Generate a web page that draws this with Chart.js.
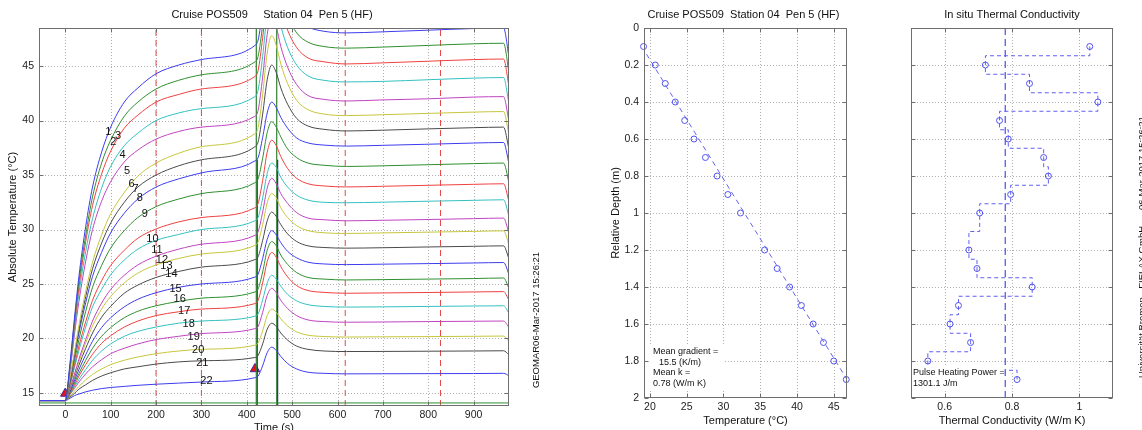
<!DOCTYPE html>
<html><head><meta charset="utf-8">
<script src="https://cdn.jsdelivr.net/npm/chart.js@4.4.1/dist/chart.umd.min.js"></script>
<style>
html,body{margin:0;padding:0;background:#fff;width:1142px;height:430px;overflow:hidden;position:relative}
canvas{position:absolute;top:0}
</style></head><body>
<canvas id="c1" style="left:0px" width="560" height="430"></canvas>
<canvas id="c2" style="left:560px" width="300" height="430"></canvas>
<canvas id="c3" style="left:860px" width="282" height="430"></canvas>
<script>
// ---------------- DATA ----------------
const timeSec = [-58, 0, 10, 20, 30, 45, 60, 80, 100, 130, 160, 200, 250, 300, 418, 425, 435, 445, 455, 465, 475, 490, 510, 535, 570, 620, 700, 800, 900, 966, 978];
const sensor01 = [14.3,14.3,17.6,21.8,25.7,30.3,33.9,37.1,39.4,41.7,43.0,44.3,45.1,45.6,46.9,47.4,50.1,53.5,55.0,54.2,52.6,50.9,49.4,48.6,48.2,48.05,48.15,48.3,48.45,48.5,45.8];
const sensor02 = [14.3,14.3,17.4,21.5,25.2,29.5,33.0,36.1,38.2,40.4,41.7,42.9,43.7,44.2,45.4,45.9,48.8,52.5,54.0,53.1,51.4,49.6,48.05,47.2,46.8,46.65,46.75,46.9,47.05,47.1,44.4];
const sensor03 = [14.3,14.3,17.3,21.1,24.7,28.9,32.2,35.1,37.2,39.3,40.5,41.7,42.4,42.9,44.05,44.6,47.6,51.4,53.0,52.1,50.3,48.3,46.7,45.75,45.4,45.2,45.3,45.45,45.6,45.65,43.1];
const sensor04 = [14.3,14.3,17.1,20.7,24.1,28.0,31.0,33.8,35.8,37.7,38.85,40.0,40.7,41.1,42.2,42.8,45.9,49.8,51.5,50.55,48.7,46.7,45.1,44.1,43.7,43.55,43.6,43.75,43.9,43.95,41.5];
const sensor05 = [14.3,14.3,16.9,20.3,23.4,27.1,30.0,32.6,34.4,36.2,37.3,38.3,39.0,39.4,40.4,40.95,44.0,47.9,49.5,48.6,46.8,44.9,43.3,42.3,41.95,41.8,41.9,42.0,42.16,42.2,39.9];
const sensor06 = [14.3,14.3,16.3,18.7,21.2,24.35,27.0,29.5,31.45,33.4,34.9,36.1,37.0,37.6,38.8,39.35,42.4,46.2,47.8,46.9,45.2,43.4,41.85,41.0,40.6,40.46,40.54,40.66,40.78,40.83,38.7];
const sensor07 = [14.3,14.3,16.2,18.5,20.8,23.85,26.4,28.75,30.6,32.5,33.9,35.0,35.85,36.4,37.6,38.05,40.6,43.75,45.1,44.4,43.0,41.5,40.2,39.5,39.2,39.05,39.12,39.24,39.35,39.4,37.35];
const sensor08 = [14.3,14.3,16.1,18.3,20.5,23.3,25.7,27.9,29.7,31.5,32.8,33.9,34.65,35.2,36.3,36.6,38.45,40.7,41.7,41.2,40.3,39.3,38.4,37.95,37.75,37.66,37.73,37.83,37.94,37.99,36.05];
const sensor09 = [14.3,14.3,15.9,17.9,19.9,22.5,24.7,26.7,28.3,29.9,31.1,32.1,32.8,33.3,34.3,34.65,36.55,38.9,39.9,39.4,38.5,37.4,36.6,36.1,35.9,35.79,35.85,35.95,36.05,36.1,34.3];
const sensor10 = [14.3,14.3,15.7,17.5,19.3,21.55,23.5,25.3,26.7,28.1,29.2,30.05,30.7,31.1,32.0,32.4,34.5,37.1,38.2,37.7,36.7,35.6,34.7,34.2,34.0,33.91,33.97,34.06,34.15,34.2,32.55];
const sensor11 = [14.3,14.3,15.6,17.3,18.9,21.05,22.9,24.5,25.85,27.2,28.2,29.0,29.55,30.0,30.8,31.1,32.9,35.15,36.1,35.7,34.8,33.9,33.15,32.7,32.5,32.46,32.51,32.6,32.68,32.73,31.2];
const sensor12 = [14.3,14.3,15.35,16.7,18.1,19.9,21.6,23.25,24.5,25.8,26.75,27.55,28.2,28.65,29.47,29.8,31.6,33.8,34.7,34.2,33.3,32.4,31.55,31.05,30.9,30.8,30.85,30.92,31.0,31.05,29.65];
const sensor13 = [14.3,14.3,15.3,16.6,17.85,19.6,21.15,22.7,23.85,25.1,26.0,26.75,27.35,27.75,28.55,28.85,30.45,32.45,33.3,32.9,32.0,31.1,30.35,29.9,29.7,29.64,29.69,29.76,29.83,29.88,28.6];
const sensor14 = [14.3,14.3,15.2,16.4,17.55,19.1,20.5,21.95,22.95,24.15,24.9,25.6,26.15,26.55,27.24,27.5,29.0,30.8,31.6,31.2,30.45,29.6,28.9,28.5,28.35,28.29,28.33,28.4,28.46,28.5,27.3];
const sensor15 = [14.3,14.3,15.1,16.1,17.15,18.5,19.75,21.0,21.9,22.9,23.6,24.2,24.7,25.0,25.64,25.9,27.35,29.1,29.9,29.5,28.8,28.0,27.4,27.0,26.84,26.78,26.82,26.87,26.93,26.97,25.9];
const sensor16 = [14.3,14.3,15.0,15.9,16.8,18.0,19.1,20.2,21.0,21.9,22.5,23.0,23.4,23.7,24.27,24.55,26.1,28.1,28.9,28.5,27.65,26.8,26.05,25.6,25.45,25.37,25.4,25.45,25.5,25.55,24.6];
const sensor17 = [14.3,14.3,14.9,15.7,16.55,17.6,18.55,19.55,20.25,21.05,21.6,22.1,22.45,22.7,23.2,23.5,25.1,27.05,27.9,27.45,26.6,25.65,24.85,24.4,24.23,24.15,24.18,24.22,24.27,24.3,23.5];
const sensor18 = [14.3,14.3,14.85,15.55,16.25,17.15,18.0,18.85,19.5,20.2,20.65,21.05,21.4,21.6,22.04,22.25,23.55,25.1,25.8,25.45,24.8,24.05,23.45,23.1,22.94,22.88,22.9,22.94,22.98,23.0,22.3];
const sensor19 = [14.3,14.3,14.85,15.4,16.0,16.75,17.4,18.05,18.6,19.1,19.5,19.9,20.2,20.45,20.9,21.1,22.4,23.95,24.6,24.2,23.5,22.75,22.1,21.7,21.55,21.49,21.51,21.55,21.58,21.6,21.0];
const sensor20 = [14.3,14.3,14.7,15.15,15.6,16.2,16.7,17.2,17.6,18.0,18.3,18.6,18.85,19.0,19.38,19.6,20.7,22.1,22.7,22.4,21.8,21.15,20.6,20.3,20.18,20.13,20.15,20.17,20.2,20.22,19.73];
const sensor21 = [14.3,14.3,14.6,14.95,15.35,15.75,16.15,16.55,16.85,17.2,17.4,17.65,17.85,17.95,18.25,18.45,19.5,20.85,21.4,21.1,20.5,19.85,19.3,19.0,18.85,18.8,18.81,18.83,18.85,18.87,18.5];
const sensor22 = [14.3,14.3,14.5,14.75,14.9,15.1,15.25,15.4,15.5,15.6,15.7,15.8,15.9,16.0,16.4,16.55,17.5,18.7,19.2,18.9,18.35,17.7,17.2,16.9,16.8,16.75,16.76,16.77,16.78,16.8,16.58];
const sensorSeries = [sensor01,sensor02,sensor03,sensor04,sensor05,sensor06,sensor07,sensor08,sensor09,sensor10,sensor11,
  sensor12,sensor13,sensor14,sensor15,sensor16,sensor17,sensor18,sensor19,sensor20,sensor21,sensor22];
const waterTime = [-58, 978];
const waterTemp = [14.08, 14.08];
const labelTime = [95, 106, 116, 126, 136, 146, 155, 164, 175, 192, 202, 213, 223, 234, 243, 252, 262, 272, 283, 293, 302, 311];
const labelTemp = [38.95, 38.0, 38.6, 36.8, 35.4, 34.2, 33.75, 32.9, 31.4, 29.1, 28.1, 27.2, 26.65, 25.95, 24.5, 23.65, 22.5, 21.35, 20.1, 18.9, 17.75, 16.1];
const markerTime = [0, 418];
const markerTemp = [14.95, 17.2];
const windowTimes = [200, 300, 617, 827];
const pulseGreenTimes = [421, 466];
const pulseBlueTimes = [423, 468];
const pulseBlueTop = 36.4;
const timeTicks = [0, 100, 200, 300, 400, 500, 600, 700, 800, 900];
const absTempTicks = [15, 20, 25, 30, 35, 40, 45];
const timeRange = [-58, 978];
const absTempRange = [13.8, 48.5];

const depthM = [0.1,0.2,0.3,0.4,0.5,0.6,0.7,0.8,0.9,1.0,1.2,1.3,1.4,1.5,1.6,1.7,1.8,1.9];
const tempC = [19.14,20.73,22.09,23.45,24.73,26.0,27.55,29.14,30.6,32.32,35.6,37.3,39.0,40.6,42.2,43.6,45.0,46.7];
const fitDepth = [0.1, 1.9];
const fitTemp = [18.9, 46.8];
const condK = [1.031,0.721,0.852,1.055,0.763,0.789,0.894,0.908,0.796,0.704,0.672,0.696,0.860,0.641,0.616,0.677,0.550,0.815];
const meanGradient = "15.5";
const meanK = 0.78;
const meanKText = "0.78";
const pulsePower = "1301.1";
const depthTicks = [0,0.2,0.4,0.6,0.8,1,1.2,1.4,1.6,1.8,2];
const tempTicks = [20,25,30,35,40,45];
const condTicks = [0.6,0.8,1];
const depthRange = [0, 2];
const tempRange = [19.2, 46.8];
const condRange = [0.5, 1.1];

// ---------------- STYLE ----------------
const FONT = '"Liberation Sans", Arial, Helvetica, sans-serif';
Chart.defaults.font.family = FONT;
Chart.defaults.color = '#222';
const palette = ['#3c3cf0','#2f8f2f','#f04040','#34c0c0','#c044c0','#c6c63c','#4a4a4a'];
const ptBlue = '#5252ee';

function txt(ctx, s, x, y, o) {
  o = o || {};
  ctx.save();
  ctx.font = (o.size || 11) + 'px ' + FONT;
  ctx.fillStyle = o.color || '#111';
  ctx.textAlign = o.align || 'center';
  ctx.textBaseline = o.baseline || 'middle';
  ctx.translate(x, y);
  if (o.rot) ctx.rotate(o.rot);
  ctx.fillText(s, 0, 0);
  ctx.restore();
}

function decor(extra) {
  return {
    id: 'decor',
    beforeDatasetsDraw(chart) {
      const {ctx, chartArea: a} = chart;
      const xs = chart.scales.x, ys = chart.scales.y;
      ctx.save();
      ctx.strokeStyle = '#b0b0b0'; ctx.lineWidth = 1; ctx.setLineDash([1, 2]);
      xs.ticks.forEach(t => { const p = Math.round(xs.getPixelForValue(t.value)) + 0.5;
        if (p <= a.left + 1 || p >= a.right - 1) return;
        ctx.beginPath(); ctx.moveTo(p, a.top); ctx.lineTo(p, a.bottom); ctx.stroke(); });
      ys.ticks.forEach(t => { const p = Math.round(ys.getPixelForValue(t.value)) + 0.5;
        if (p <= a.top + 1 || p >= a.bottom - 1) return;
        ctx.beginPath(); ctx.moveTo(a.left, p); ctx.lineTo(a.right, p); ctx.stroke(); });
      ctx.restore();
    },
    afterDatasetDraw(chart, args) {
      if (extra.afterIndex !== undefined && args.index === extra.afterIndex) extra.afterDataset(chart);
    },
    afterDraw(chart) {
      const {ctx, chartArea: a} = chart;
      const xs = chart.scales.x, ys = chart.scales.y;
      ctx.save();
      ctx.strokeStyle = '#6e6e6e'; ctx.lineWidth = 1; ctx.setLineDash([]);
      const L = Math.round(a.left) + 0.5, R = Math.round(a.right) - 0.5, T = Math.round(a.top) + 0.5, B = Math.round(a.bottom) - 0.5;
      ctx.strokeRect(L, T, R - L, B - T);
      ctx.beginPath();
      xs.ticks.forEach(t => { const p = Math.round(xs.getPixelForValue(t.value)) + 0.5;
        ctx.moveTo(p, B); ctx.lineTo(p, B - 4); ctx.moveTo(p, T); ctx.lineTo(p, T + 4); });
      ys.ticks.forEach(t => { const p = Math.round(ys.getPixelForValue(t.value)) + 0.5;
        ctx.moveTo(L, p); ctx.lineTo(L + 4, p); ctx.moveTo(R, p); ctx.lineTo(R - 4, p); });
      ctx.stroke();
      ctx.restore();
      extra.texts(chart);
    }
  };
}

function axisX(range, ticks, h) {
  return { type: 'linear', min: range[0], max: range[1],
    afterBuildTicks: s => { s.ticks = ticks.map(v => ({value: v})); },
    afterFit: s => { s.height = h; },
    grid: {display: false, drawTicks: false}, border: {display: false},
    ticks: {font: {size: 10.5}, padding: 3, maxRotation: 0, autoSkip: false, callback: v => String(v)} };
}
function axisY(range, ticks, w, reverse, show) {
  return { type: 'linear', min: range[0], max: range[1], reverse: !!reverse,
    afterBuildTicks: s => { s.ticks = ticks.map(v => ({value: v})); },
    afterFit: s => { s.width = w; },
    grid: {display: false, drawTicks: false}, border: {display: false},
    ticks: {display: show, font: {size: 10.5}, padding: 5, autoSkip: false, callback: v => String(v)} };
}
const common = { responsive: false, animation: false, events: [],
  plugins: {legend: {display: false}, tooltip: {enabled: false}, title: {display: false}} };
const pts = (xs, ys) => xs.map((x, i) => ({x: x, y: ys[i]}));

// ---------------- CHART 1 : temperature vs time ----------------
const ds1 = [];
sensorSeries.forEach((s, i) => ds1.push({ data: pts(timeSec, s), borderColor: palette[i % 7], borderWidth: 1,
  pointRadius: 0, cubicInterpolationMode: 'monotone', fill: false }));
ds1.push({ data: pts(waterTime, waterTemp), borderColor: palette[22 % 7], borderWidth: 1, pointRadius: 0 });
windowTimes.forEach(t => ds1.push({ data: pts([t, t], absTempRange), borderColor: '#e34848', borderWidth: 1,
  borderDash: [6, 4], pointRadius: 0 }));
pulseGreenTimes.forEach(t => ds1.push({ data: pts([t, t], absTempRange), borderColor: '#2f7f2f', borderWidth: 1.2, pointRadius: 0 }));
pulseBlueTimes.forEach(t => ds1.push({ data: pts([t, t], [absTempRange[0], pulseBlueTop]), borderColor: '#20208a', borderWidth: 1.2, pointRadius: 0 }));
ds1.push({ type: 'scatter', data: pts(markerTime, markerTemp), pointStyle: 'triangle', pointRadius: 5.5,
  backgroundColor: '#e8101c', borderColor: '#3a2a9a', borderWidth: 1, clip: false, showLine: false });

new Chart(document.getElementById('c1'), {
  type: 'line',
  data: { datasets: ds1 },
  options: Object.assign({}, common, {
    layout: {padding: {top: 28, right: 51, left: 0, bottom: 0}},
    scales: { x: axisX(timeRange, timeTicks, 24), y: axisY(absTempRange, absTempTicks, 39, false, true) }
  }),
  plugins: [decor({ texts(chart) {
    const {ctx, chartArea: a, scales: {x, y}} = chart;
    labelTime.forEach((t, i) => txt(ctx, String(i + 1), x.getPixelForValue(t), y.getPixelForValue(labelTemp[i]), {size: 11, color: '#111'}));
    txt(ctx, 'Cruise POS509     Station 04  Pen 5 (HF)', 272, 15, {size: 11});
    txt(ctx, 'Time (s)', (a.left + a.right) / 2, 428, {size: 11});
    txt(ctx, 'Absolute Temperature (\u00B0C)', 13, (a.top + a.bottom) / 2, {size: 11, rot: -Math.PI / 2});
    txt(ctx, 'GEOMAR06-Mar-2017 15:26:21', 536, 320, {size: 9.5, rot: -Math.PI / 2});
  }})]
});

// ---------------- CHART 2 : temperature vs depth ----------------
new Chart(document.getElementById('c2'), {
  type: 'scatter',
  data: { datasets: [
    { data: pts(fitTemp, fitDepth), showLine: true, borderColor: '#6464f0', borderWidth: 1, borderDash: [5, 4], pointRadius: 0 },
    { data: pts(tempC, depthM), showLine: false, pointStyle: 'circle', pointRadius: 3, borderColor: ptBlue,
      backgroundColor: 'rgba(0,0,0,0)', borderWidth: 1, clip: false }
  ]},
  options: Object.assign({}, common, {
    layout: {padding: {top: 28, right: 13, left: 0, bottom: 0}},
    scales: { x: axisX(tempRange, tempTicks, 32), y: axisY(depthRange, depthTicks, 84, true, true) }
  }),
  plugins: [decor({ texts(chart) {
    const {ctx, chartArea: a} = chart;
    txt(ctx, 'Cruise POS509  Station 04  Pen 5 (HF)', 183.5, 15, {size: 11});
    txt(ctx, 'Temperature (\u00B0C)', (a.left + a.right) / 2, 421, {size: 11});
    txt(ctx, 'Relative Depth (m)', 55.5, (a.top + a.bottom) / 2, {size: 11, rot: -Math.PI / 2});
    ctx.save(); ctx.fillStyle = '#fff'; ctx.fillRect(90, 345, 74, 46); ctx.restore();
    txt(ctx, 'Mean gradient =', 93, 352, {size: 9, align: 'left'});
    txt(ctx, meanGradient + ' (K/m)', 99, 362.5, {size: 9, align: 'left'});
    txt(ctx, 'Mean k =', 93, 373, {size: 9, align: 'left'});
    txt(ctx, meanKText + ' (W/m K)', 93, 384, {size: 9, align: 'left'});
  }})]
});

// ---------------- CHART 3 : conductivity vs depth ----------------
const stepK = [], stepD = [];
condK.forEach((k, i) => {
  stepK.push(k); stepD.push(depthM[i]);
  if (i < condK.length - 1) {
    const mid = (depthM[i] + depthM[i + 1]) / 2;
    stepK.push(k); stepD.push(mid);
    stepK.push(condK[i + 1]); stepD.push(mid);
  }
});
new Chart(document.getElementById('c3'), {
  type: 'scatter',
  data: { datasets: [
    { data: pts([meanK, meanK], depthRange), showLine: true, borderColor: '#5a5af0', borderWidth: 1.3, borderDash: [7, 4], pointRadius: 0, order: 0 },
    { data: pts(condK, depthM), showLine: false, pointStyle: 'circle', pointRadius: 3, borderColor: ptBlue,
      backgroundColor: 'rgba(0,0,0,0)', borderWidth: 1, clip: false, order: 1 },
    { data: pts(stepK, stepD), showLine: true, borderColor: '#6060f0', borderWidth: 1, borderDash: [4, 3], pointRadius: 0, order: 2 }
  ]},
  options: Object.assign({}, common, {
    layout: {padding: {top: 28, right: 29, left: 0, bottom: 0}},
    scales: { x: axisX(condRange, condTicks, 32), y: axisY(depthRange, depthTicks, 51, true, false) }
  }),
  plugins: [decor({
    afterIndex: 2,
    afterDataset(chart) {
      const ctx = chart.ctx;
      ctx.save(); ctx.fillStyle = '#fff'; ctx.fillRect(52, 366, 97, 25); ctx.restore();
      txt(ctx, 'Pulse Heating Power =', 53, 373, {size: 9, align: 'left'});
      txt(ctx, pulsePower + ' J/m', 53, 384, {size: 9, align: 'left'});
    },
    texts(chart) {
      const {ctx, chartArea: a} = chart;
      txt(ctx, 'In situ Thermal Conductivity', 152, 15, {size: 11});
      txt(ctx, 'Thermal Conductivity (W/m K)', (a.left + a.right) / 2, 421, {size: 11});
      ctx.save();
      ctx.font = '9.5px ' + FONT; ctx.fillStyle = '#111'; ctx.textAlign = 'left'; ctx.textBaseline = 'middle';
      ctx.translate(282, 378); ctx.rotate(-Math.PI / 2);
      ctx.fillText('Universit\u00E4t Bremen - FIELAX GmbH      06-Mar-2017 15:26:21', 0, 0);
      ctx.restore();
    }
  })]
});
</script>
</body></html>
